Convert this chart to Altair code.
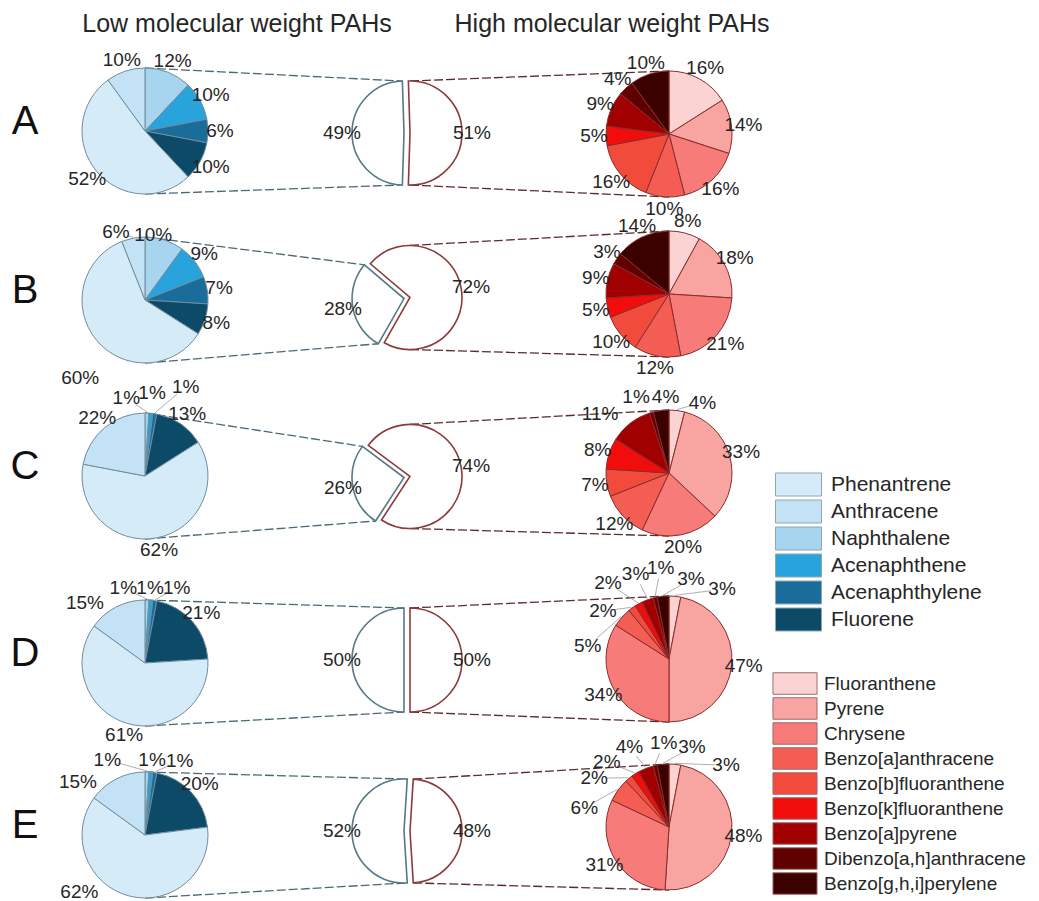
import math
import altair as alt
import pandas as pd

# ---------------- data ----------------
ROW_LETTERS = ["A", "B", "C", "D", "E"]

LMW_NAMES = ["Phenantrene", "Anthracene", "Naphthalene", "Acenaphthene", "Acenaphthylene", "Fluorene"]
LMW_COLORS = ["#d6ebf8", "#c4e2f5", "#a7d4ef", "#29a3dc", "#1a6d9b", "#0c4a68"]
LMW_SLICE_ORDER = ["Naphthalene", "Acenaphthene", "Acenaphthylene", "Fluorene", "Phenantrene", "Anthracene"]

PHENANTRENE = [52, 60, 62, 61, 62]
ANTHRACENE = [10, 6, 22, 15, 15]
NAPHTHALENE = [12, 10, 1, 1, 1]
ACENAPHTHENE = [10, 9, 1, 1, 1]
ACENAPHTHYLENE = [6, 7, 1, 1, 1]
FLUORENE = [10, 8, 13, 21, 20]

HMW_NAMES = ["Fluoranthene", "Pyrene", "Chrysene", "Benzo[a]anthracene", "Benzo[b]fluoranthene",
             "Benzo[k]fluoranthene", "Benzo[a]pyrene", "Dibenzo[a,h]anthracene", "Benzo[g,h,i]perylene"]
HMW_COLORS = ["#fbd3d3", "#f8a4a1", "#f67b79", "#f35d54", "#f14b3c", "#f20d0d", "#a10000", "#610000", "#3b0000"]

FLUORANTHENE = [16, 8, 4, 3, 3]
PYRENE = [14, 18, 33, 47, 48]
CHRYSENE = [16, 21, 20, 34, 31]
BENZO_A_ANTHRACENE = [10, 12, 12, 5, 6]
BENZO_B_FLUORANTHENE = [16, 10, 7, 2, 2]
BENZO_K_FLUORANTHENE = [5, 5, 8, 2, 2]
BENZO_A_PYRENE = [9, 9, 11, 3, 4]
DIBENZO_AH_ANTHRACENE = [4, 3, 1, 1, 1]
BENZO_GHI_PERYLENE = [10, 14, 4, 3, 3]

LMW_SHARE = [49, 28, 26, 50, 52]
HMW_SHARE = [51, 72, 74, 50, 48]

LMW_VALUES = dict(zip(LMW_NAMES, [PHENANTRENE, ANTHRACENE, NAPHTHALENE, ACENAPHTHENE, ACENAPHTHYLENE, FLUORENE]))
HMW_VALUES = dict(zip(HMW_NAMES, [FLUORANTHENE, PYRENE, CHRYSENE, BENZO_A_ANTHRACENE, BENZO_B_FLUORANTHENE,
                                  BENZO_K_FLUORANTHENE, BENZO_A_PYRENE, DIBENZO_AH_ANTHRACENE, BENZO_GHI_PERYLENE]))

# ---------------- layout ----------------
W, H = 1023, 885
FONT = "Liberation Sans"
TXT = "#262626"
LEFT_CX, LEFT_CY = 145, [131, 300, 476, 663, 835]
RIGHT_CX, RIGHT_CY = 669, [134, 294, 473, 659, 827]
MID_CX, MID_CY = 407, [133, 298, 477, 660, 831]
MID_TILT = [0, -10, -10, 0, 0]          # degrees
R_SIDE, R_MID = 63, 52
LABEL_R, MID_LABEL_R = 75, 62
EXPLODE = 3
LETTER_Y = [122, 291, 467, 654, 826]

NUDGE = {
    ("B", "Phenantrene"): (-7, 30), ("B", "Anthracene"): (-15, 6), ("B", "Naphthalene"): (-15, 6),
    ("C", "Naphthalene"): (-21, -3), ("C", "Acenaphthene"): (0, -8), ("C", "Acenaphthylene"): (29, -15),
    ("D", "Naphthalene"): (-24, 0), ("D", "Acenaphthene"): (-2, 0), ("D", "Acenaphthylene"): (20, -1),
    ("D", "Anthracene"): (-26, 7),
    ("E", "Naphthalene"): (-40, 0), ("E", "Acenaphthylene"): (23, 0), ("E", "Phenantrene"): (-47, -16),
    ("E", "Anthracene"): (-33, 14),
    ("C", "Fluoranthene"): (24, 4), ("C", "Benzo[a]pyrene"): (-23, 0), ("C", "Dibenzo[a,h]anthracene"): (-12, -4),
    ("C", "Benzo[g,h,i]perylene"): (6, -2),
    ("D", "Fluoranthene"): (46, 5), ("D", "Benzo[g,h,i]perylene"): (29, -5), ("D", "Dibenzo[a,h]anthracene"): (8, -18),
    ("D", "Benzo[a]pyrene"): (-8, -14), ("D", "Benzo[k]fluoranthene"): (-25, -10),
    ("D", "Benzo[b]fluoranthene"): (-22, 13), ("D", "Benzo[a]anthracene"): (-25, 37),
    ("E", "Fluoranthene"): (50, 13), ("E", "Benzo[g,h,i]perylene"): (30, -5), ("E", "Dibenzo[a,h]anthracene"): (11, -11),
    ("E", "Benzo[a]pyrene"): (-12, -10), ("E", "Benzo[k]fluoranthene"): (-22, -2),
    ("E", "Benzo[b]fluoranthene"): (-27, 9), ("E", "Benzo[a]anthracene"): (-24, 25),
}


def polar(cx, cy, r, pct):
    a = 2 * math.pi * pct / 100.0
    return cx + r * math.sin(a), cy - r * math.cos(a)


left_rows, right_rows, label_rows, leader_rows = [], [], [], []


def build_pie(i, order, values, cx, cy, target):
    cum = 0.0
    for name in order:
        v = values[name][i]
        target.append(dict(row=ROW_LETTERS[i], compound=name, t0=cum, t1=cum + v, cx=cx, cy=cy))
        mid = cum + v / 2.0
        lx, ly = polar(cx, cy, LABEL_R, mid)
        dx, dy = NUDGE.get((ROW_LETTERS[i], name), (0, 0))
        lx += dx
        ly += dy
        label_rows.append(dict(x=lx, y=ly, text=f"{v}%"))
        if v <= 6 and math.hypot(dx, dy) >= 14:
            ex, ey = polar(cx, cy, R_SIDE + 1, mid)
            L = math.hypot(lx - ex, ly - ey)
            k = max(L - 11, 0) / L
            leader_rows.append(dict(x1=ex, y1=ey, x2=ex + (lx - ex) * k, y2=ey + (ly - ey) * k))
        cum += v


mid_l_rows, mid_h_rows, mid_label_rows, conn_l_rows, conn_h_rows = [], [], [], [], []
for i in range(5):
    build_pie(i, LMW_SLICE_ORDER, LMW_VALUES, LEFT_CX, LEFT_CY[i], left_rows)
    build_pie(i, HMW_NAMES, HMW_VALUES, RIGHT_CX, RIGHT_CY[i], right_rows)

    p = LMW_SHARE[i]
    m = 75 + MID_TILT[i] / 3.6
    half = p / 2.0
    lcx, lcy = polar(MID_CX, MID_CY[i], EXPLODE, m)
    hcx, hcy = polar(MID_CX, MID_CY[i], EXPLODE, m + 50)
    mid_l_rows.append(dict(t0=m - half, t1=m + half, cx=lcx, cy=lcy))
    mid_h_rows.append(dict(t0=m + half, t1=m - half + 100, cx=hcx, cy=hcy))
    x, y = polar(lcx, lcy, MID_LABEL_R, m)
    mid_label_rows.append(dict(x=x, y=y, text=f"{p}%"))
    x, y = polar(hcx, hcy, MID_LABEL_R, m + 50)
    mid_label_rows.append(dict(x=x, y=y, text=f"{HMW_SHARE[i]}%"))

    tx, ty = polar(lcx, lcy, R_MID, m + half)
    bx, by = polar(lcx, lcy, R_MID, m - half)
    conn_l_rows.append(dict(x1=LEFT_CX, y1=LEFT_CY[i] - R_SIDE, x2=tx, y2=ty))
    conn_l_rows.append(dict(x1=LEFT_CX, y1=LEFT_CY[i] + R_SIDE, x2=bx, y2=by))
    tx, ty = polar(hcx, hcy, R_MID, max(m + half, 100))
    bx, by = polar(hcx, hcy, R_MID, min(m - half + 100, 150))
    conn_h_rows.append(dict(x1=tx, y1=ty, x2=RIGHT_CX, y2=RIGHT_CY[i] - R_SIDE))
    conn_h_rows.append(dict(x1=bx, y1=by, x2=RIGHT_CX, y2=RIGHT_CY[i] + R_SIDE))

titles = pd.DataFrame([dict(x=237, y=24, text="Low molecular weight PAHs"),
                       dict(x=612, y=24, text="High molecular weight PAHs")])
letters = pd.DataFrame([dict(x=25, y=LETTER_Y[i], text=ROW_LETTERS[i]) for i in range(5)])

# ---------------- scales ----------------
XS = alt.Scale(domain=[8, 8 + W], nice=False, zero=False)
YS = alt.Scale(domain=[8, 8 + H], nice=False, zero=False, reverse=True)
TS = alt.Scale(domain=[0, 100], range=[0, 2 * math.pi])


def xy(xf, yf):
    return dict(x=alt.X(f"{xf}:Q", scale=XS, axis=None), y=alt.Y(f"{yf}:Q", scale=YS, axis=None))


def rule_enc():
    return dict(**xy("x1", "y1"), x2=alt.X2("x2:Q"), y2=alt.Y2("y2:Q"))


conn_l = alt.Chart(pd.DataFrame(conn_l_rows)).mark_rule(
    stroke="#4b6875", strokeWidth=1.3, strokeDash=[9, 3]).encode(**rule_enc())
conn_h = alt.Chart(pd.DataFrame(conn_h_rows)).mark_rule(
    stroke="#5e2a2a", strokeWidth=1.3, strokeDash=[9, 3]).encode(**rule_enc())
leaders = alt.Chart(pd.DataFrame(leader_rows)).mark_rule(
    stroke="#9a9a9a", strokeWidth=0.8).encode(**rule_enc())

lmw_legend = alt.Legend(orient="none", legendX=778.5, legendY=464.5, title=None,
                        symbolType="M-2,-1H2V1H-2Z", symbolSize=529, symbolStrokeColor="#8ea7b4",
                        symbolStrokeWidth=1, symbolOpacity=1, labelFont=FONT, labelFontSize=21,
                        labelColor=TXT, labelOffset=20.5, labelLimit=400, rowPadding=-1.0, padding=0)
hmw_legend = alt.Legend(orient="none", legendX=775.5, legendY=664, title=None,
                        symbolType="M-2.05,-1H2.05V1H-2.05Z", symbolSize=462, symbolStrokeColor="#a06a6a",
                        symbolStrokeWidth=1, symbolOpacity=1, labelFont=FONT, labelFontSize=19,
                        labelColor=TXT, labelOffset=17.5, labelLimit=400, rowPadding=-3.2, padding=0)

left_arcs = alt.Chart(pd.DataFrame(left_rows)).mark_arc(
    radius=R_SIDE, stroke="#6f8d9e", strokeWidth=1).encode(
    theta=alt.Theta("t0:Q", scale=TS, stack=False), theta2=alt.Theta2("t1:Q"),
    color=alt.Color("compound:N", scale=alt.Scale(domain=LMW_NAMES, range=LMW_COLORS), legend=lmw_legend),
    **xy("cx", "cy"))

right_arcs = alt.Chart(pd.DataFrame(right_rows)).mark_arc(
    radius=R_SIDE, stroke="#8a2c2c", strokeWidth=1).encode(
    theta=alt.Theta("t0:Q", scale=TS, stack=False), theta2=alt.Theta2("t1:Q"),
    color=alt.Color("compound:N", scale=alt.Scale(domain=HMW_NAMES, range=HMW_COLORS), legend=hmw_legend),
    **xy("cx", "cy"))

mid_l = alt.Chart(pd.DataFrame(mid_l_rows)).mark_arc(
    radius=R_MID, fill="white", stroke="#557886", strokeWidth=1.6).encode(
    theta=alt.Theta("t0:Q", scale=TS, stack=False), theta2=alt.Theta2("t1:Q"), **xy("cx", "cy"))
mid_h = alt.Chart(pd.DataFrame(mid_h_rows)).mark_arc(
    radius=R_MID, fill="white", stroke="#8e3a3a", strokeWidth=1.6).encode(
    theta=alt.Theta("t0:Q", scale=TS, stack=False), theta2=alt.Theta2("t1:Q"), **xy("cx", "cy"))

labels = alt.Chart(pd.DataFrame(label_rows + mid_label_rows)).mark_text(
    font=FONT, fontSize=19, color=TXT, align="center", baseline="middle").encode(
    text="text:N", **xy("x", "y"))
title_text = alt.Chart(titles).mark_text(
    font=FONT, fontSize=25, color=TXT, align="center", baseline="middle").encode(
    text="text:N", **xy("x", "y"))
letter_text = alt.Chart(letters).mark_text(
    font=FONT, fontSize=40, color="#111111", align="center", baseline="middle").encode(
    text="text:N", **xy("x", "y"))

chart = alt.layer(
    conn_l, conn_h, leaders, left_arcs, right_arcs, mid_l, mid_h, labels, title_text, letter_text
).resolve_scale(color="independent").properties(
    width=W, height=H, padding=0, background="white"
).configure_view(strokeWidth=0)

chart.save("out.html", embed_options={"renderer": "svg", "actions": False})
